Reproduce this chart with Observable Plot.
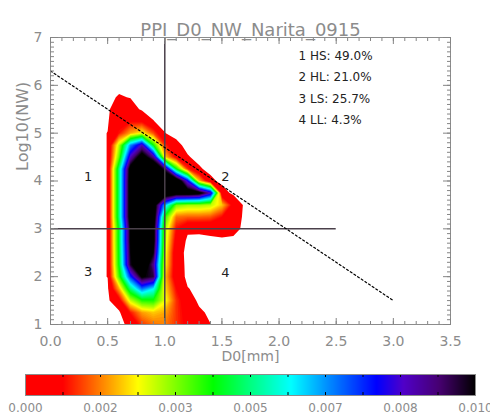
<!DOCTYPE html>
<html><head><meta charset="utf-8">
<script src="https://cdn.jsdelivr.net/npm/d3@7"></script>
<script src="https://cdn.jsdelivr.net/npm/@observablehq/plot@0.6"></script>
<style>
body{margin:0;background:#fff;}
#wrap{position:relative;width:490px;height:414px;overflow:hidden;background:#fff;}
#wrap svg{position:absolute;left:0;}
</style></head><body><div id="wrap"></div>
<script>
// ---- texts ----
const titleText = "PPI_D0_NW_Narita_0915";
const xLabel = "D0[mm]";
const yLabel = "Log10(NW)";
const xTickValues = [0, 0.5, 1.0, 1.5, 2.0, 2.5, 3.0, 3.5];
const yTickValues = [1, 2, 3, 4, 5, 6, 7];
const legendLines = ["1 HS: 49.0%", "2 HL: 21.0%", "3 LS: 25.7%", "4 LL: 4.3%"];
const legendD0 = 2.17;
const legendLogNW = [6.62, 6.17, 5.72, 5.27];
const quadLabels = ["1", "2", "3", "4"];
const quadD0 = [0.33, 1.53, 0.33, 1.53];
const quadLogNW = [4.08, 4.08, 2.1, 2.08];
// reference lines
const crossD0 = 1.0;
const crossLogNW = 3.0;
const crossHRange = [0.0, 2.5];
const dashD0 = [0.0, 3.0];
const dashLogNW = [6.3, 1.5];
// ---- density grid (values x 1e-3), rows from top (logNW 6.0) to bottom (0.75) ----
const gridD0 = [0.3,0.4,0.5,0.6,0.7,0.8,0.9,1.0,1.1,1.2,1.3,1.4,1.5,1.6,1.7,1.8];
const gridLogNW = [6.0,5.75,5.5,5.25,5.0,4.75,4.5,4.25,4.0,3.75,3.5,3.25,3.0,2.75,2.5,2.25,2.0,1.75,1.5,1.25,1.0,0.75];
const densityRows = [
  [0,0,0,0,0,0,0,0,0,0,0,0,0,0,0,0],
  [0,0,0,0.14,0.08,0,0,0,0,0,0,0,0,0,0,0],
  [0,0,0,0.5,0.35,0.02,0,0,0,0,0,0,0,0,0,0],
  [0,0,0.05,0.6,0.85,0.8,0.11,0,0,0,0,0,0,0,0,0],
  [0,0,0.11,1.0,2.0,2.6,1.4,0.11,0,0,0,0,0,0,0,0],
  [0,0,0.11,3.0,6.8,8.6,4.2,1.2,0.2,0,0,0,0,0,0,0],
  [0,0,0.11,3.6,8.6,10.8,9.0,2.3,0.7,0.13,0,0,0,0,0,0],
  [0,0,0.11,5.0,10.6,12,12,9.5,4.3,1.2,0.15,0,0,0,0,0],
  [0,0,0.11,5.0,10.8,12,12,12,11.5,8.0,2.2,0.2,0,0,0,0],
  [0,0,0.11,5.0,10.8,12,12,11.5,11,11,10.6,8.5,0.3,0,0,0],
  [0,0,0.11,5.0,10.8,12,11,6.5,3.5,3.2,3.2,3.0,2.2,0.6,0,0],
  [0,0,0.11,5.0,10.8,12,11,4.0,1.6,1.5,1.5,1.4,0.9,0.4,0,0],
  [0,0,0.11,4.5,10.2,12,10.5,3.2,0.9,0.2,0.18,0.25,0.35,0.25,0,0],
  [0,0,0.11,4.5,10.2,12,10.5,3.0,0.6,0,0,0,0,0,0,0],
  [0,0,0.11,4.4,10,12,10,2.8,0.3,0,0,0,0,0,0,0],
  [0,0,0.11,4.3,9.8,11.5,9.0,2.6,0.35,0,0,0,0,0,0,0],
  [0,0,0.11,3.8,7.5,10.2,9.6,2.2,0.4,0,0,0,0,0,0,0],
  [0,0,0,2.0,5.0,7.0,6.0,2.4,0.9,0.12,0,0,0,0,0,0],
  [0,0,0,0.6,2.9,4.0,4.1,2.7,1.2,0.4,0,0,0,0,0,0],
  [0,0,0,0,1.0,1.9,2.2,2.0,1.2,0.6,0.2,0,0,0,0,0],
  [0,0,0,0,0.2,1.2,1.6,1.7,1.2,0.7,0.35,0.11,0,0,0,0],
  [0,0,0,0,0.1,0.8,1.2,1.3,1.0,0.6,0.3,0.12,0,0,0,0]
];
// ---- colour bar ----
const cbStopValues = [0, 0.83, 1.67, 2.5, 3.33, 4.17, 5.0, 5.9, 6.7, 7.8, 8.4, 9.2, 10];
const cbStopColors = ["#ff0000","#ff0000","#ff8000","#ffff00","#80ff00","#00ff00","#00ff80","#00ffff","#0090ff","#0000ff","#5000c8","#460070","#000000"];
const cbTickValues = [0, 1.667, 3.333, 5.0, 6.667, 8.333, 10];
const cbTickLabels = ["0.000","0.002","0.003","0.005","0.007","0.008","0.010"];

const gray = "#8c8c8c";
const tickGray = "#858585";
const font = "DejaVu Sans, sans-serif";
const colorScale = {type: "linear", domain: cbStopValues, range: cbStopColors, interpolate: "rgb", clamp: true};

const W = 490, H = 366, mL = 50, mR = 40, mT = 37, mB = 42;
const xDom = [0, 3.5], yDom = [1, 7];

const dx = gridD0[1] - gridD0[0];
const dy = gridLogNW[0] - gridLogNW[1];
const values = densityRows.slice().reverse().flat();
const thresholds = d3.range(1, 101).map(k => k / 10);

const xMinor = d3.range(0, 36).map(k => k / 10);
const yMinor = d3.range(10, 71).map(k => k / 10);

// inward ticks on all four sides, drawn with the axis marks' tick machinery
function xTickAxes(vals, len) {
  return [
    Plot.axisX(vals, {anchor: "bottom", tickSize: len, dy: -len, tickFormat: null, text: null, stroke: tickGray, label: null}),
    Plot.axisX(vals, {anchor: "top", tickSize: len, dy: len, tickFormat: null, text: null, stroke: tickGray, label: null})
  ];
}
function yTickAxes(vals, len) {
  return [
    Plot.axisY(vals, {anchor: "left", tickSize: len, dx: len, tickFormat: null, text: null, stroke: tickGray, label: null}),
    Plot.axisY(vals, {anchor: "right", tickSize: len, dx: -len, tickFormat: null, text: null, stroke: tickGray, label: null})
  ];
}

const main = Plot.plot({
  width: W, height: H,
  marginLeft: mL, marginRight: mR, marginTop: mT, marginBottom: mB,
  style: {background: "transparent", fontFamily: font, overflow: "visible"},
  x: {domain: xDom},
  y: {domain: yDom},
  color: colorScale,
  marks: [
    Plot.contour(values, {
      x1: gridD0[0] - dx / 2, x2: gridD0[gridD0.length - 1] + dx / 2,
      y1: gridLogNW[gridLogNW.length - 1] - dy / 2, y2: gridLogNW[0] + dy / 2,
      width: gridD0.length, height: gridLogNW.length,
      thresholds, fill: Plot.identity, stroke: "none", clip: true
    }),
    Plot.ruleX([crossD0], {y1: yDom[0], y2: yDom[1], stroke: "#4a404a", strokeWidth: 1.5}),
    Plot.ruleY([crossLogNW], {x1: crossHRange[0], x2: crossHRange[1], stroke: "#4a404a", strokeWidth: 1.5}),
    Plot.line(dashD0.map((d, i) => ({x: d, y: dashLogNW[i]})), {x: "x", y: "y", stroke: "#000", strokeWidth: 1.2, strokeDasharray: "2,2.4"}),
    Plot.text(legendLines, {x: legendD0, y: (d, i) => legendLogNW[i], text: d => d, textAnchor: "start", fontSize: 12, fill: "#222"}),
    Plot.text(quadLabels, {x: (d, i) => quadD0[i], y: (d, i) => quadLogNW[i], text: d => d, fontSize: 13, fill: "#222"}),
    Plot.frame({stroke: gray}),
    ...xTickAxes(xMinor, 3),
    ...xTickAxes(xTickValues, 6),
    ...yTickAxes(yMinor, 4),
    ...yTickAxes(yTickValues, 8),
    Plot.axisX(xTickValues, {anchor: "bottom", tickSize: 0, tickPadding: 12, tickFormat: d => d.toFixed(1), fontSize: 14, color: gray, label: null}),
    Plot.axisY(yTickValues, {anchor: "left", tickSize: 0, tickPadding: 8, tickFormat: d => String(d), fontSize: 14, color: gray, label: null}),
    Plot.text([titleText], {frameAnchor: "top", dy: -14, text: d => d, fontSize: 18, fill: gray}),
    Plot.text([xLabel], {frameAnchor: "bottom", dy: 36, text: d => d, fontSize: 14, fill: gray}),
    Plot.text([yLabel], {frameAnchor: "left", dx: -28, dy: -10, rotate: -90, text: d => d, fontSize: 16, fill: gray})
  ]
});
main.style.top = "0px";

const cbMinor = d3.range(1, 12).map(k => k * 10 / 12);
const cb = Plot.plot({
  width: 490, height: 54,
  marginLeft: 25, marginRight: 15, marginTop: 14, marginBottom: 19,
  style: {background: "transparent", fontFamily: font, overflow: "visible"},
  x: {domain: [0, 10]},
  y: {domain: [0, 1]},
  color: colorScale,
  marks: [
    Plot.raster({x1: 0, x2: 10, y1: 0, y2: 1, width: 450, height: 1, fill: (x, y) => x}),
    Plot.ruleX(cbMinor, {x: d => d, y1: 0.86, y2: 1, stroke: "#000"}),
    Plot.ruleX(cbMinor, {x: d => d, y1: 0, y2: 0.14, stroke: "#000"}),
    Plot.frame({stroke: gray}),
    Plot.axisX(cbTickValues, {anchor: "bottom", tickSize: 0, tickPadding: 8, tickFormat: d => cbTickLabels[cbTickValues.indexOf(d)], fontSize: 12, color: gray, label: null}),
    Plot.axisY([], {label: null})
  ]
});
cb.style.top = "360px";

const wrap = document.getElementById("wrap");
wrap.appendChild(main);
wrap.appendChild(cb);
</script></body></html>
